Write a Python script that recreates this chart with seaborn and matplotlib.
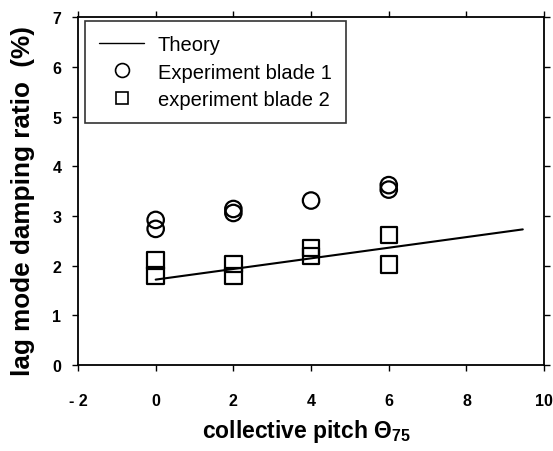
import matplotlib
matplotlib.use("Agg")
import matplotlib.pyplot as plt
import seaborn as sns
import pandas as pd
from matplotlib.lines import Line2D

sns.set_theme(style="ticks")
plt.rcParams['font.family'] = ['Liberation Sans', 'DejaVu Sans']
plt.rcParams['mathtext.fontset'] = 'custom'
plt.rcParams['mathtext.rm'] = 'Liberation Sans'
plt.rcParams['mathtext.bf'] = 'Liberation Sans:bold'
plt.rcParams['mathtext.it'] = 'Liberation Sans:italic'
plt.rcParams['text.color'] = 'black'
plt.rcParams['axes.labelcolor'] = 'black'
plt.rcParams['xtick.color'] = 'black'
plt.rcParams['ytick.color'] = 'black'

# data
blade1_pitch = [0, 0, 2, 2, 4, 6, 6]
blade1_damp = [2.92, 2.74, 3.14, 3.06, 3.31, 3.62, 3.53]
blade2_pitch = [0, 0, 2, 2, 4, 4, 6, 6]
blade2_damp = [2.10, 1.80, 2.03, 1.79, 2.35, 2.20, 2.62, 2.02]
theory_pitch = [0.0, 9.45]
theory_damp = [1.72, 2.73]

x_ticks = [-2, 0, 2, 4, 6, 8, 10]
x_tick_labels = ['- 2', '0', '2', '4', '6', '8', '10']
y_ticks = [0, 1, 2, 3, 4, 5, 6, 7]

exp_df = pd.DataFrame({
    'pitch': blade1_pitch + blade2_pitch,
    'damp': blade1_damp + blade2_damp,
    'series': ['Experiment blade 1'] * len(blade1_pitch) + ['experiment blade 2'] * len(blade2_pitch),
})
th_df = pd.DataFrame({'pitch': theory_pitch, 'damp': theory_damp})

fig = plt.figure(figsize=(5.53, 4.52), dpi=100)
ax = fig.add_axes([0.141, 0.190, 0.843, 0.770])

sns.lineplot(data=th_df, x='pitch', y='damp', ax=ax, color='black', lw=1.5, legend=False)
sns.scatterplot(data=exp_df, x='pitch', y='damp', style='series',
                markers={'Experiment blade 1': 'o', 'experiment blade 2': 's'},
                s=140, facecolor='none', edgecolor='black', linewidth=1.6, ax=ax, legend=False)

ax.set_xlim(-2, 10)
ax.set_ylim(0, 7)
ax.set_xticks(x_ticks)
ax.set_xticklabels(x_tick_labels)
ax.set_yticks(y_ticks)
for side in ['top', 'right', 'left', 'bottom']:
    ax.spines[side].set_visible(True)
    ax.spines[side].set_color('black')
    ax.spines[side].set_linewidth(1.3)
ax.tick_params(axis='both', which='major', direction='out', length=4, width=1,
               colors='black', labelsize=11.5, top=True, right=True)
for lbl in ax.get_xticklabels() + ax.get_yticklabels():
    lbl.set_fontweight('bold')
ax.tick_params(axis='x', pad=16)
ax.tick_params(axis='y', pad=8)

ax.set_xlabel(r'collective pitch $\mathbf{\Theta}_{\mathbf{75}}$', fontsize=16.5, fontweight='bold',
              color='black')
ax.xaxis.set_label_coords(0.49, -0.150)
ax.set_ylabel('lag mode damping ratio  (%)', fontsize=18.8, fontweight='bold', color='black')
ax.yaxis.set_label_coords(-0.093, 0.473)

handles = [
    Line2D([], [], color='black', lw=1.0),
    Line2D([], [], marker='o', ls='none', mfc='none', mec='black', ms=10, mew=1.2),
    Line2D([], [], marker='s', ls='none', mfc='none', mec='black', ms=9, mew=1.2),
]
labels = ['Theory', 'Experiment blade 1', 'experiment blade 2']
leg = ax.legend(handles, labels, loc='upper left', bbox_to_anchor=(0.015, 0.99),
                borderaxespad=0, frameon=True, fancybox=False, edgecolor='black', fontsize=14.5,
                handlelength=2.2, handletextpad=0.7, borderpad=0.72, labelspacing=0.42)
leg.get_frame().set_linewidth(1.2)
for t in leg.get_texts():
    t.set_color('black')

fig.savefig('out.png', dpi=100)
